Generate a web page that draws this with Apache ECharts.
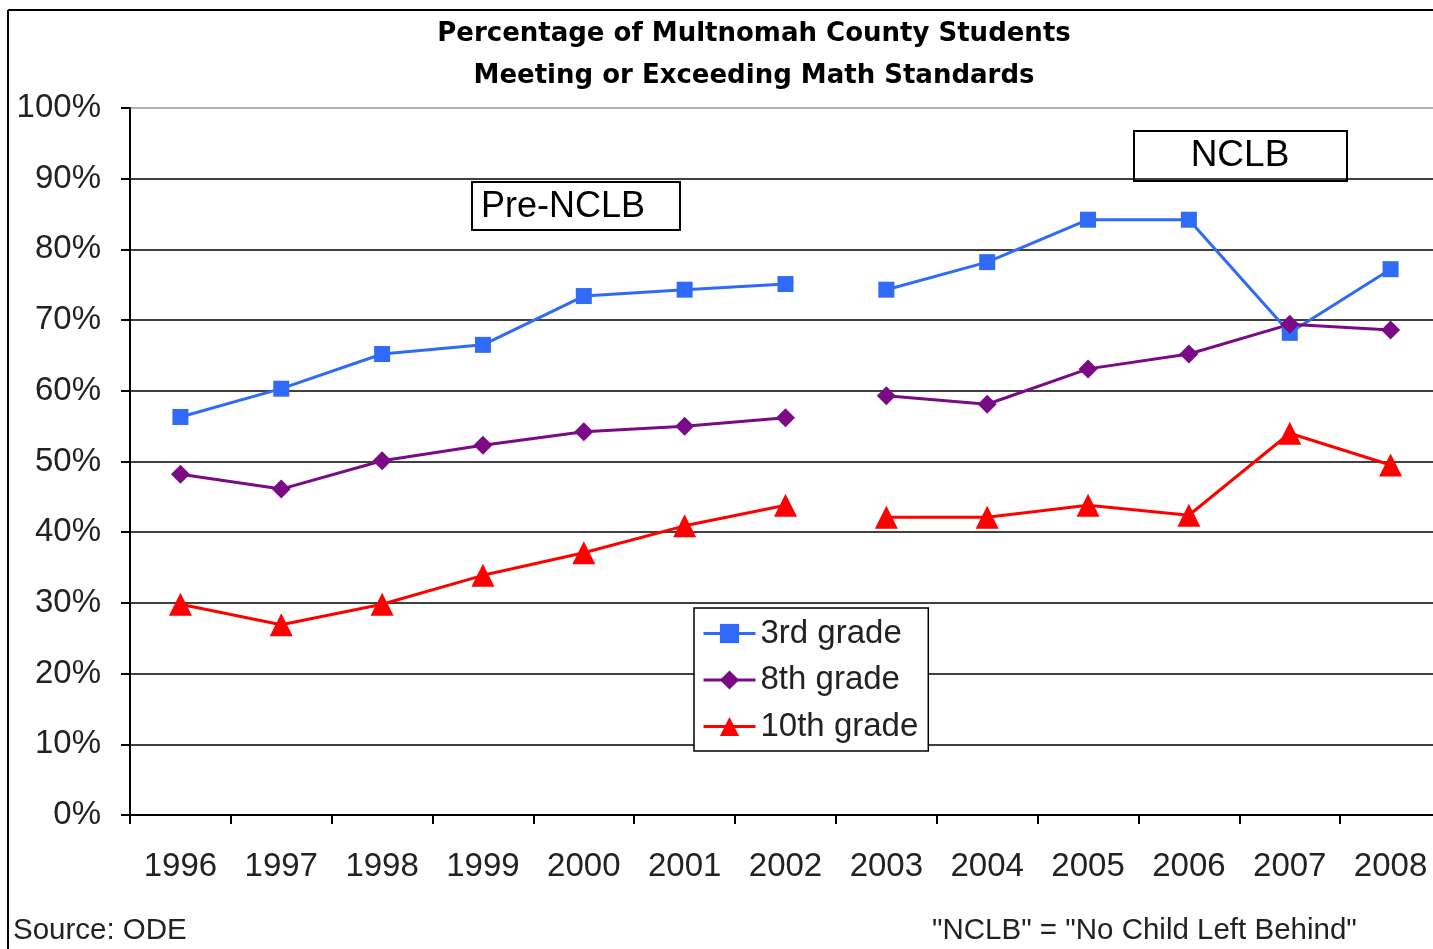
<!DOCTYPE html>
<html>
<head>
<meta charset="utf-8">
<script src="https://cdn.jsdelivr.net/npm/echarts@6/dist/echarts.min.js"></script>
<style>
  html, body { margin: 0; padding: 0; background: #fff; overflow: hidden; }
  /* a little wider than the window: the plot runs past the right edge as in the source */
  #chart { width: 1441px; height: 949px; }
</style>
</head>
<body>
<div id="chart"></div>
<script>
// years on the x axis
const years = ["1996", "1997", "1998", "1999", "2000", "2001", "2002",
  "2003", "2004", "2005", "2006", "2007", "2008"];
// values (percent); null = break between periods
const grade3Pre = [56.3, 60.3, 65.2, 66.5, 73.4, 74.3, 75.1, null, null, null, null, null, null];
const grade3Post = [null, null, null, null, null, null, null, 74.3, 78.2, 84.2, 84.2, 68.2, 77.2];
const grade8Pre = [48.2, 46.1, 50.1, 52.3, 54.2, 55.0, 56.2, null, null, null, null, null, null];
const grade8Post = [null, null, null, null, null, null, null, 59.3, 58.1, 63.1, 65.2, 69.4, 68.6];
const grade10Pre = [29.8, 26.9, 29.8, 33.9, 37.1, 40.9, 43.8, null, null, null, null, null, null];
const grade10Post = [null, null, null, null, null, null, null, 42.1, 42.1, 43.8, 42.4, 54.0, 49.5];

const gradeNames = ["3rd grade", "8th grade", "10th grade"];
const FONT = "Liberation Sans, Arial, sans-serif";

let chart = echarts.init(document.getElementById("chart"));

function lineSeries(name, data, color, symbol, size) {
  return {
    name: name,
    type: "line",
    data: data,
    symbol: symbol,
    symbolSize: size,
    showSymbol: true,
    connectNulls: false,
    itemStyle: { color: color },
    lineStyle: { color: color, width: 3 },
    emphasis: { disabled: true },
    animation: false,
  };
}

// grey top gridline, black for the rest
let splitColors = [];
for (let i = 0; i < 10; i++) splitColors.push("#000");
splitColors.push("#999");

let option = {
  backgroundColor: "#fff",
  animation: false,
  grid: { left: 130, top: 108, right: 0, bottom: 134 },
  legend: {
    data: gradeNames,
    orient: "vertical",
    left: 694,
    top: 608,
    backgroundColor: "#fff",
    borderColor: "#000",
    borderWidth: 1.5,
    borderRadius: 0,
    padding: [9, 10, 8, 8],
    itemGap: 13.5,
    itemWidth: 52,
    itemHeight: 24,
    lineStyle: { width: 3 },
    textStyle: { fontFamily: FONT, fontSize: 33, color: "#222" },
  },
  xAxis: {
    type: "category",
    data: years,
    boundaryGap: true,
    axisLine: { lineStyle: { color: "#000", width: 2 } },
    axisTick: { show: true, length: 9, alignWithLabel: false, lineStyle: { color: "#000", width: 2 } },
    axisLabel: { margin: 35, fontFamily: FONT, fontSize: 33, color: "#222" },
    splitLine: { show: false },
  },
  yAxis: {
    type: "value",
    min: 0,
    max: 100,
    interval: 10,
    axisLine: { show: true, lineStyle: { color: "#000", width: 2 } },
    axisTick: { show: true, length: 9, lineStyle: { color: "#000", width: 2 } },
    axisLabel: { margin: 29, formatter: "{value}%", fontFamily: FONT, fontSize: 33, color: "#222" },
    splitLine: { show: true, lineStyle: { color: splitColors, width: 1.5 } },
  },
  series: [
    lineSeries(gradeNames[0], grade3Pre, "#2f6bf7", "rect", 16),
    lineSeries(gradeNames[0], grade3Post, "#2f6bf7", "rect", 16),
    lineSeries(gradeNames[1], grade8Pre, "#7a0a85", "diamond", 19),
    lineSeries(gradeNames[1], grade8Post, "#7a0a85", "diamond", 19),
    lineSeries(gradeNames[2], grade10Pre, "#ff0000", "triangle", 23),
    lineSeries(gradeNames[2], grade10Post, "#ff0000", "triangle", 23),
  ],
  graphic: [
    // outer frame (left and top edges visible)
    { type: "line", shape: { x1: 8, y1: 10, x2: 1441, y2: 10 }, style: { stroke: "#000", lineWidth: 2 } },
    { type: "line", shape: { x1: 8, y1: 10, x2: 8, y2: 949 }, style: { stroke: "#000", lineWidth: 2 } },
    {
      type: "text", x: 754, y: 13,
      style: {
        text: "Percentage of Multnomah County Students\nMeeting or Exceeding Math Standards",
        font: "bold 26px 'DejaVu Sans', Verdana, sans-serif",
        fill: "#000", align: "center", lineHeight: 42,
      },
    },
    {
      type: "group", left: 471, top: 181, z: 10,
      children: [
        { type: "rect", shape: { x: 0, y: 0, width: 208, height: 48 }, style: { fill: "#fff", stroke: "#000", lineWidth: 2 } },
        { type: "text", x: 9, y: 25, style: { text: "Pre-NCLB", font: "36px " + FONT, fill: "#000", align: "left", verticalAlign: "middle" } },
      ],
    },
    {
      type: "group", left: 1133, top: 130, z: 10,
      children: [
        { type: "rect", shape: { x: 0, y: 0, width: 213, height: 50 }, style: { fill: "#fff", stroke: "#000", lineWidth: 2 } },
        { type: "text", x: 106, y: 25, style: { text: "NCLB", font: "37px " + FONT, fill: "#000", align: "center", verticalAlign: "middle" } },
      ],
    },
    { type: "text", x: 13, y: 916, style: { text: "Source: ODE", font: "29.5px " + FONT, fill: "#222" } },
    { type: "text", x: 932, y: 916, style: { text: "\"NCLB\" = \"No Child Left Behind\"", font: "29.5px " + FONT, fill: "#222" } },
  ],
};

chart.setOption(option);
window.onresize = chart.resize;
</script>
</body>
</html>
